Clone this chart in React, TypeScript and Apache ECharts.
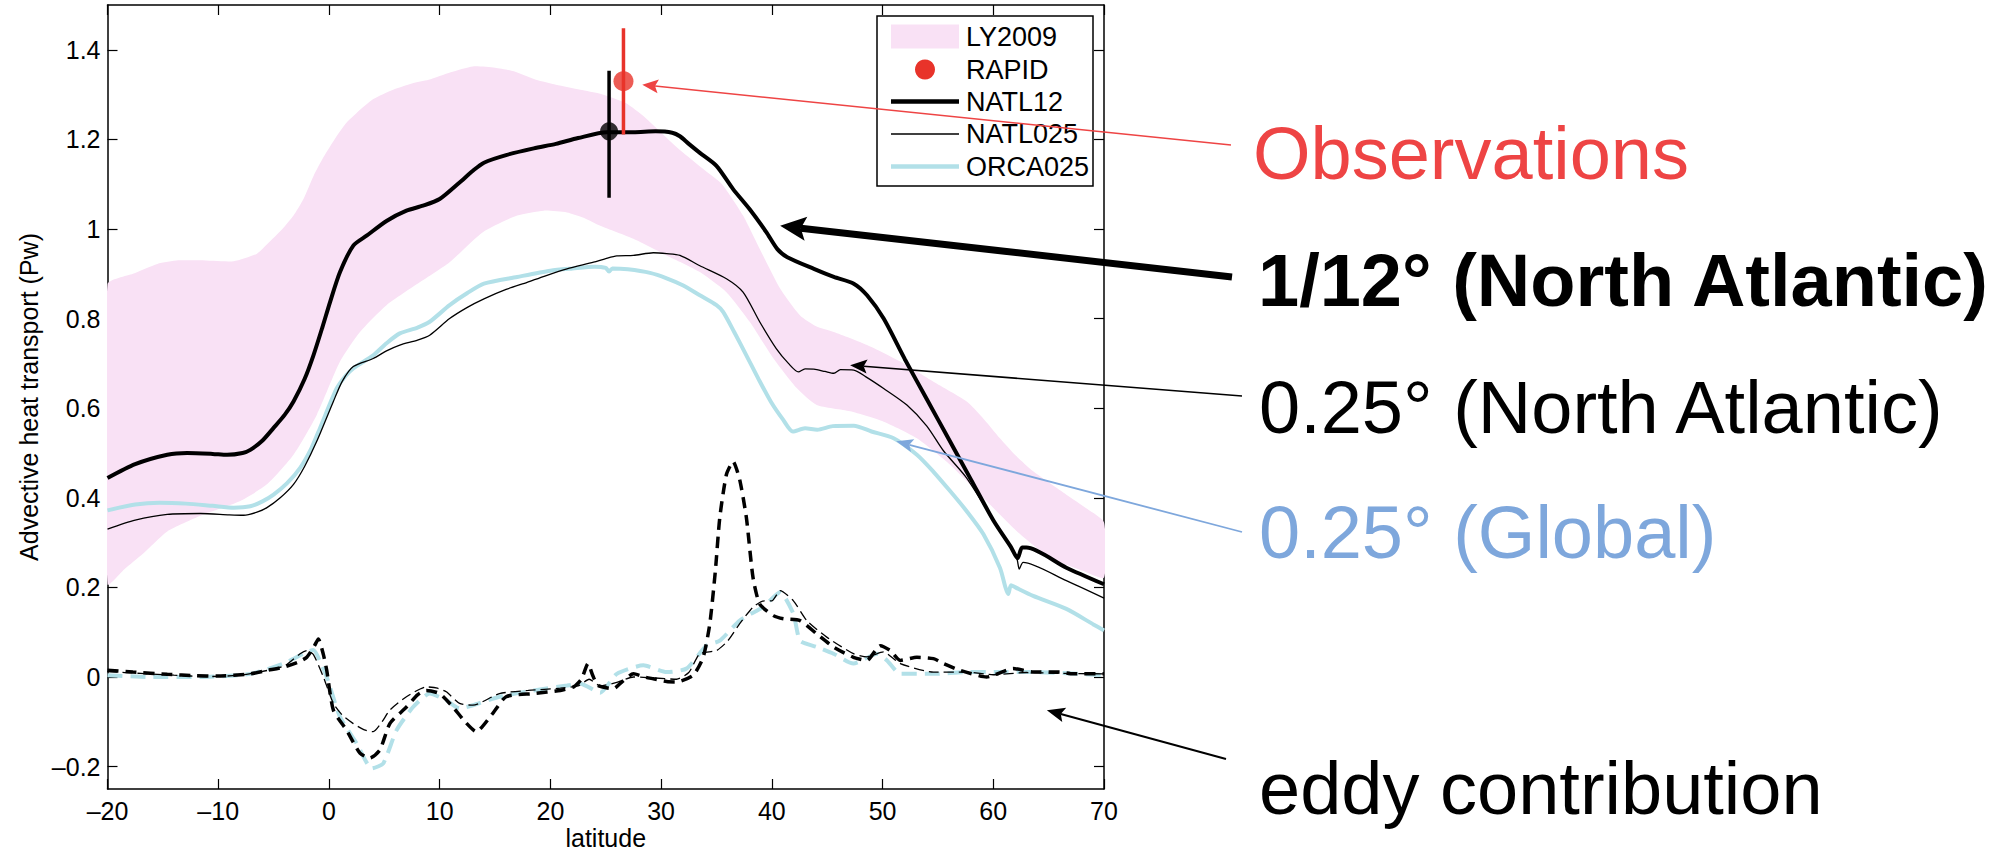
import React, { useEffect, useRef } from 'react';
import * as echarts from 'echarts';

const FONT = '"Liberation Sans", Arial, Helvetica, sans-serif';

const xTicks = [-20, -10, 0, 10, 20, 30, 40, 50, 60, 70];
const yTicks = [-0.2, 0, 0.2, 0.4, 0.6, 0.8, 1, 1.2, 1.4];

const legendLabels = ['LY2009', 'RAPID', 'NATL12', 'NATL025', 'ORCA025'];

// LY2009 envelope (upper and lower bounds)
const ly2009Upper = [
  [-20, 0.876], [-17.7, 0.9], [-15.5, 0.922], [-13.6, 0.93], [-11.6, 0.93], [-8.6, 0.928], [-6.5, 0.945],
  [-5.5, 0.968], [-4.2, 1.0], [-3.2, 1.03], [-2.3, 1.067], [-1.4, 1.118], [-0.5, 1.16], [0.5, 1.2],
  [1.5, 1.235], [2.5, 1.259], [4, 1.29], [5.8, 1.311], [7.5, 1.325], [9, 1.333], [11, 1.35], [13, 1.363],
  [15, 1.36], [16.7, 1.352], [18.7, 1.333], [20.5, 1.322], [22.7, 1.311], [24.5, 1.302], [26.8, 1.281],
  [28.5, 1.25], [30, 1.215], [32, 1.17], [34, 1.13], [35.5, 1.1], [37.4, 1.03], [38.9, 0.956],
  [40.75, 0.867], [42.55, 0.807], [44, 0.783], [45.6, 0.77], [48.6, 0.741], [51.6, 0.704], [54.6, 0.659],
  [57.6, 0.615], [59, 0.58], [60.6, 0.533], [62, 0.495], [63.6, 0.459], [66.6, 0.407], [68.5, 0.375], [70, 0.345],
];
const ly2009Lower = [
  [-20, 0.207], [-18.5, 0.24], [-16.8, 0.275], [-14.6, 0.325], [-11.6, 0.36], [-8, 0.393], [-5.6, 0.43],
  [-3.2, 0.496], [-1.1, 0.585], [1, 0.704], [2.8, 0.77], [5.2, 0.83], [8.2, 0.881], [10.9, 0.926],
  [13.9, 0.993], [17, 1.03], [19.4, 1.041], [21.5, 1.037], [23, 1.025], [24.5, 1.007], [27.5, 0.978],
  [30.5, 0.941], [33.5, 0.904], [35.9, 0.859], [38, 0.793], [40.15, 0.711], [42.25, 0.645], [44.06, 0.607],
  [47.07, 0.593], [50.1, 0.57], [53.1, 0.533], [56.1, 0.474], [59.1, 0.4], [62.1, 0.326], [65.1, 0.267],
  [68.1, 0.237], [70, 0.222],
];

// Total advective heat transport (PW)
const natl12 = [
  [-20, 0.444], [-17.5, 0.475], [-14.6, 0.496], [-12.8, 0.5], [-10.5, 0.498], [-9.2, 0.496], [-7.8, 0.5],
  [-7.1, 0.507], [-6, 0.528], [-5, 0.556], [-4, 0.585], [-3.2, 0.615], [-2.2, 0.665], [-1.4, 0.718],
  [-0.6, 0.78], [0.1, 0.837], [1, 0.904], [2.2, 0.963], [3.4, 0.985], [5.2, 1.018], [7, 1.041],
  [8.5, 1.052], [10, 1.067], [11.8, 1.104], [13, 1.13], [14, 1.148], [16, 1.165], [18.5, 1.18],
  [20.5, 1.19], [22.5, 1.203], [25.1, 1.216], [27.5, 1.216], [29.5, 1.218], [31, 1.215], [31.7, 1.207],
  [32.5, 1.19], [33.5, 1.17], [35, 1.141], [36.5, 1.089], [38, 1.044], [39.5, 0.993], [40.5, 0.955],
  [41.4, 0.937], [43.8, 0.911], [45.6, 0.893], [47.4, 0.878], [48.6, 0.852], [50.1, 0.8], [52, 0.71],
  [54, 0.62], [56, 0.53], [58, 0.44], [60, 0.35], [61.6, 0.29], [62.2, 0.265], [62.6, 0.289], [63, 0.289],
  [66.6, 0.244], [70, 0.207],
];
const natl025 = [
  [-20, 0.33], [-17.5, 0.35], [-14.6, 0.363], [-11.6, 0.365], [-9, 0.362], [-7.7, 0.361], [-6.5, 0.368],
  [-5.6, 0.378], [-4.4, 0.4], [-3.2, 0.43], [-2.2, 0.47], [-1.1, 0.526], [0.4, 0.615], [1.2, 0.66],
  [2.2, 0.693], [4, 0.711], [5.2, 0.728], [6.4, 0.741], [8, 0.752], [9.1, 0.763], [10.9, 0.8],
  [12.5, 0.825], [14, 0.844], [16, 0.865], [17.9, 0.881], [19.5, 0.895], [21.5, 0.911], [23.9, 0.926],
  [25, 0.934], [26, 0.94], [27.5, 0.941], [29.3, 0.947], [30.5, 0.945], [31.7, 0.941], [33.5, 0.918],
  [35.9, 0.889], [37.4, 0.859], [38.9, 0.793], [40.4, 0.733], [41.5, 0.7], [42.4, 0.681], [43, 0.688],
  [43.8, 0.687], [44.8, 0.682], [45.6, 0.678], [46.2, 0.686], [47.4, 0.685], [48.5, 0.67], [50.1, 0.644],
  [52.2, 0.607], [54, 0.56], [55.5, 0.505], [57.6, 0.444], [60.6, 0.326], [62.1, 0.267], [62.35, 0.241],
  [62.7, 0.256], [66.6, 0.215], [70, 0.176],
];
const orca025 = [
  [-20, 0.372], [-17.5, 0.385], [-15.3, 0.389], [-12.9, 0.387], [-10.5, 0.382], [-8.6, 0.378], [-7.1, 0.381],
  [-6, 0.392], [-5, 0.407], [-3.8, 0.432], [-2.6, 0.467], [-1.6, 0.51], [-0.8, 0.556], [0.7, 0.644],
  [1.5, 0.672], [2.2, 0.689], [4, 0.718], [5.2, 0.745], [6.4, 0.767], [8, 0.78], [9.1, 0.793],
  [10.9, 0.83], [12.5, 0.857], [14, 0.878], [17, 0.893], [20, 0.907], [22, 0.912], [24, 0.916],
  [25, 0.913], [25.3, 0.905], [25.6, 0.912], [27, 0.91], [29, 0.902], [30.5, 0.89], [32, 0.874],
  [33.5, 0.852], [35, 0.83], [35.6, 0.815], [36.6, 0.77], [37.7, 0.718], [38.8, 0.665], [39.9, 0.615],
  [41, 0.575], [41.9, 0.548], [43, 0.555], [44.1, 0.552], [45.5, 0.56], [47.4, 0.561], [49, 0.548],
  [51, 0.533], [53.1, 0.496], [54.6, 0.458], [56.1, 0.415], [57.6, 0.37], [59.1, 0.319], [60.6, 0.244],
  [61.1, 0.2], [61.35, 0.185], [61.6, 0.205], [62, 0.2], [63.6, 0.181], [66.6, 0.152], [69, 0.118], [70, 0.104],
];

// Eddy contribution (PW)
const natl12Eddy = [
  [-20, 0.015], [-17.7, 0.011], [-14.6, 0.006], [-12, 0.003], [-10.1, 0.002], [-7.1, 0.007], [-5.5, 0.015],
  [-4.1, 0.022], [-2.8, 0.033], [-2, 0.044], [-1.3, 0.07], [-0.96, 0.085], [-0.5, 0.05], [-0.2, 0.015],
  [0.4, -0.074], [1.6, -0.119], [2.8, -0.17], [3.7, -0.181], [4.6, -0.163], [5.5, -0.104], [7, -0.067],
  [8, -0.04], [8.8, -0.03], [10, -0.037], [11.2, -0.067], [12.3, -0.1], [13.3, -0.122], [14.8, -0.081],
  [16, -0.044], [18.5, -0.037], [20.9, -0.03], [22.1, -0.022], [22.8, -0.005], [23.4, 0.03], [23.8, 0.005],
  [24.3, -0.019], [25.7, -0.026], [26.5, -0.01], [27.5, 0.007], [28.5, 0], [29.3, -0.004], [30.5, -0.01],
  [31.4, -0.011], [32.9, 0.004], [33.8, 0.044], [34.4, 0.119], [34.9, 0.237], [35.3, 0.356], [35.9, 0.452],
  [36.5, 0.481], [37.1, 0.44], [37.7, 0.356], [38.3, 0.222], [38.9, 0.163], [40.15, 0.137], [41.05, 0.13],
  [42.55, 0.126], [44.06, 0.096], [45.57, 0.067], [47.37, 0.044], [48.58, 0.037], [49.8, 0.07], [50.7, 0.059],
  [51.6, 0.037], [53.1, 0.044], [54.6, 0.041], [55.5, 0.03], [57, 0.015], [59.4, 0], [61.8, 0.019],
  [63.6, 0.011], [66, 0.011], [67.2, 0.007], [70, 0.007],
];
const natl025Eddy = [
  [-20, 0.012], [-17, 0.008], [-14, 0.004], [-11, 0.001], [-8, 0.004], [-5.5, 0.015], [-4, 0.025],
  [-2.6, 0.052], [-2, 0.059], [-1.4, 0.05], [-0.5, 0], [0.4, -0.059], [1.2, -0.085], [2.2, -0.104],
  [3.2, -0.118], [4, -0.122], [4.8, -0.1], [5.5, -0.074], [7, -0.044], [8.8, -0.022], [9.8, -0.025],
  [10.6, -0.033], [11.8, -0.059], [13, -0.063], [15.4, -0.037], [18, -0.03], [20.9, -0.025], [22.5, -0.02],
  [23.5, -0.005], [24.5, -0.02], [26, -0.012], [27.5, 0], [29.3, -0.002], [31.4, -0.005], [32.5, 0.01],
  [33.5, 0.052], [35, 0.059], [36, 0.08], [37.1, 0.119], [38.3, 0.156], [39.3, 0.17], [40, 0.17],
  [40.75, 0.193], [41.95, 0.17], [43.16, 0.126], [44.96, 0.089], [47.37, 0.052], [48.6, 0.045],
  [50.08, 0.056], [51.6, 0.03], [54.6, 0.011], [57.6, 0.011], [60, 0.005], [63, 0.01], [66, 0.008], [70, 0.007],
];
const orca025Eddy = [
  [-20, 0.004], [-16.2, 0], [-11.6, 0], [-7.1, 0.007], [-4.1, 0.03], [-2, 0.056], [-1.4, 0.06], [-0.8, 0.035],
  [-0.2, 0], [1, -0.089], [2.5, -0.148], [3.87, -0.204], [4.9, -0.193], [6.1, -0.119], [7.6, -0.067],
  [9.1, -0.037], [10.6, -0.052], [11.8, -0.07], [13, -0.063], [15.4, -0.044], [18.5, -0.03], [21.5, -0.019],
  [22.7, -0.015], [24.5, -0.035], [26, 0.007], [28.4, 0.026], [30.5, 0.011], [32.3, 0.019], [34.1, 0.07],
  [35.3, 0.081], [37.1, 0.126], [39.2, 0.156], [40.75, 0.189], [41.95, 0.141], [42.55, 0.081], [44.06, 0.067],
  [45.57, 0.052], [47.37, 0.03], [49.5, 0.052], [50.4, 0.037], [51.6, 0.007], [54.6, 0.007], [57.6, 0.011],
  [60.6, 0.011], [63.6, 0.011], [70, 0.004],
];

// Observations: [latitude, value, low, high]
const natl12Obs = [25.3, 1.218, 1.07, 1.353];
const rapidObs = [26.6, 1.33, 1.211, 1.448];

// Annotations: text and arrow-tip [lat, value]
const annotationTexts = ['Observations', '1/12° (North Atlantic)', '0.25° (North Atlantic)', '0.25° (Global)', 'eddy contribution'];
const annotationTips = [[28.3, 1.322], [40.75, 1.007], [47.07, 0.696], [51.23, 0.526], [64.84, -0.074]];

const PINK = '#f9e1f5';
const LIGHTBLUE = '#b2e0e8';
const RED = '#e8332a';

const fmt = (v: number) => {
  const s = String(+v.toFixed(1));
  return s.replace('-', '\u2013');
};

export default function App() {
  const ref = useRef<HTMLDivElement>(null);
  useEffect(() => {
    const chart = echarts.init(ref.current!, null, { renderer: 'svg' });
    const axisLine = { show: true, onZero: false, lineStyle: { color: '#000', width: 1.5 } };
    const tick = { show: true, inside: true, length: 10, lineStyle: { color: '#000', width: 1.2 } };
    const option: any = {
      animation: false,
      backgroundColor: '#fff',
      textStyle: { fontFamily: FONT },
      grid: { left: 107.5, right: 905, top: 5, bottom: 62.5 },
      xAxis: [
        {
          type: 'value', min: -20, max: 70, interval: 10, position: 'bottom',
          name: 'latitude', nameLocation: 'middle', nameGap: 36, nameMoveOverlap: false,
          nameTextStyle: { fontSize: 25, color: '#000', fontFamily: FONT },
          axisLine, axisTick: tick,
          axisLabel: { fontSize: 25, color: '#000', margin: 9, formatter: fmt, fontFamily: FONT },
          splitLine: { show: false },
        },
        {
          type: 'value', min: -20, max: 70, interval: 10, position: 'top',
          axisLine, axisTick: tick, axisLabel: { show: false }, splitLine: { show: false },
        },
      ],
      yAxis: [
        {
          type: 'value', min: -0.25, max: 1.5, position: 'left',
          name: 'Advective heat transport (Pw)', nameLocation: 'middle', nameGap: 66, nameRotate: 90,
          nameMoveOverlap: false,
          nameTextStyle: { fontSize: 25, color: '#000', fontFamily: FONT },
          axisLine, axisTick: { ...tick, customValues: yTicks },
          axisLabel: { fontSize: 25, color: '#000', margin: 7, formatter: fmt, customValues: yTicks, fontFamily: FONT },
          splitLine: { show: false },
        },
        {
          type: 'value', min: -0.25, max: 1.5, position: 'right',
          axisLine, axisTick: { ...tick, customValues: yTicks },
          axisLabel: { show: false, customValues: yTicks }, splitLine: { show: false },
        },
      ],
      series: [
        {
          type: 'custom', name: 'LY2009', silent: true, clip: true, z: 1,
          data: [[0, 0]],
          renderItem: (params: any, api: any) => {
            const pts = ly2009Upper.map((p) => api.coord(p)).concat(
              ly2009Lower.slice().reverse().map((p) => api.coord(p))
            );
            return { type: 'polygon', shape: { points: pts, smooth: 0.2 }, style: { fill: PINK }, silent: true };
          },
        },
        {
          type: 'line', name: 'ORCA025', data: orca025, showSymbol: false, symbol: 'none', smooth: 0.25, z: 3,
          silent: true, lineStyle: { color: LIGHTBLUE, width: 4 },
        },
        {
          type: 'line', name: 'NATL025', data: natl025, showSymbol: false, symbol: 'none', smooth: 0.25, z: 4,
          silent: true, lineStyle: { color: '#000', width: 1.3 },
        },
        {
          type: 'line', name: 'NATL12', data: natl12, showSymbol: false, symbol: 'none', smooth: 0.25, z: 5,
          silent: true, lineStyle: { color: '#000', width: 4 },
        },
        {
          type: 'line', name: 'ORCA025 eddy', data: orca025Eddy, showSymbol: false, symbol: 'none', smooth: 0.2, z: 3,
          silent: true, lineStyle: { color: LIGHTBLUE, width: 4, type: [15, 8] },
        },
        {
          type: 'line', name: 'NATL025 eddy', data: natl025Eddy, showSymbol: false, symbol: 'none', smooth: 0.2, z: 4,
          silent: true, lineStyle: { color: '#000', width: 1.3, type: [10, 5] },
        },
        {
          type: 'line', name: 'NATL12 eddy', data: natl12Eddy, showSymbol: false, symbol: 'none', smooth: 0.2, z: 5,
          silent: true, lineStyle: { color: '#000', width: 3.5, type: [11, 7] },
        },
        {
          type: 'line', name: 'NATL12 obs bar', data: [[natl12Obs[0], natl12Obs[2]], [natl12Obs[0], natl12Obs[3]]],
          showSymbol: false, symbol: 'none', z: 6, silent: true, lineStyle: { color: '#000', width: 3.5 },
        },
        {
          type: 'scatter', name: 'NATL12 obs', data: [[natl12Obs[0], natl12Obs[1]]], symbolSize: 18, z: 6,
          silent: true, itemStyle: { color: '#000' },
        },
        {
          type: 'line', name: 'RAPID bar', data: [[rapidObs[0], rapidObs[2]], [rapidObs[0], rapidObs[3]]],
          showSymbol: false, symbol: 'none', z: 6, silent: true, lineStyle: { color: RED, width: 3.5 },
        },
        {
          type: 'scatter', name: 'RAPID', data: [[rapidObs[0], rapidObs[1]]], symbolSize: 20, z: 6,
          silent: true, itemStyle: { color: RED },
        },
      ],
    };
    chart.setOption(option);

    const toPx = (d: number[]) => chart.convertToPixel({ xAxisIndex: 0, yAxisIndex: 0 }, d) as number[];

    // legend (drawn as graphic)
    const lgX = 877, lgY = 16, lgW = 216, lgH = 170;
    const rows = [36.5, 69.5, 101.5, 134, 166.5];
    const sx1 = 891, sx2 = 959, tx = 966;
    const legendEls: any[] = [
      { type: 'rect', shape: { x: lgX, y: lgY, width: lgW, height: lgH }, style: { fill: '#fff', stroke: '#000', lineWidth: 1.5 }, z: 50 },
      { type: 'rect', shape: { x: sx1, y: rows[0] - 12, width: sx2 - sx1, height: 24 }, style: { fill: PINK }, z: 51 },
      { type: 'circle', shape: { cx: (sx1 + sx2) / 2, cy: rows[1], r: 10 }, style: { fill: RED }, z: 51 },
      { type: 'line', shape: { x1: sx1, y1: rows[2], x2: sx2, y2: rows[2] }, style: { stroke: '#000', lineWidth: 4.5 }, z: 51 },
      { type: 'line', shape: { x1: sx1, y1: rows[3], x2: sx2, y2: rows[3] }, style: { stroke: '#000', lineWidth: 1.3 }, z: 51 },
      { type: 'line', shape: { x1: sx1, y1: rows[4], x2: sx2, y2: rows[4] }, style: { stroke: LIGHTBLUE, lineWidth: 4.5 }, z: 51 },
    ];
    legendLabels.forEach((t, i) => {
      legendEls.push({
        type: 'text', x: tx, y: rows[i], z: 52,
        style: { text: t, fill: '#000', fontSize: 27, fontFamily: FONT, align: 'left', verticalAlign: 'middle' },
      });
    });

    // annotation arrows and texts
    const tails = [[1231, 145], [1232, 277], [1242, 396], [1242, 532], [1226, 759]];
    const colors = ['#ee4444', '#000', '#000', '#7ea7dc', '#000'];
    const widths = [1.6, 7, 1.6, 1.8, 2];
    const heads = [[16, 14], [26, 24], [17, 14], [17, 13], [18, 15]];
    const textPos = [[1253, 153.5], [1258, 280], [1259, 407.5], [1259, 532.5], [1259, 788.5]];
    const annoEls: any[] = [];
    annotationTips.forEach((tip, i) => {
      const [px, py] = toPx(tip);
      const [qx, qy] = tails[i];
      const dx = px - qx, dy = py - qy;
      const len = Math.sqrt(dx * dx + dy * dy);
      const ux = dx / len, uy = dy / len;
      const nx = -uy, ny = ux;
      const [L, W] = heads[i];
      const bx = px - ux * L, by = py - uy * L;
      const notchX = bx + ux * L * 0.2, notchY = by + uy * L * 0.2;
      annoEls.push({
        type: 'line', z: 60,
        shape: { x1: qx, y1: qy, x2: notchX, y2: notchY },
        style: { stroke: colors[i], lineWidth: widths[i] },
      });
      annoEls.push({
        type: 'polygon', z: 61,
        shape: { points: [[px, py], [bx + nx * W / 2, by + ny * W / 2], [notchX, notchY], [bx - nx * W / 2, by - ny * W / 2]] },
        style: { fill: colors[i] },
      });
      annoEls.push({
        type: 'text', x: textPos[i][0], y: textPos[i][1], z: 62,
        style: {
          text: annotationTexts[i], fill: colors[i], fontSize: 74, fontFamily: FONT,
          fontWeight: i === 1 ? 'bold' : 'normal', align: 'left', verticalAlign: 'middle',
        },
      });
    });

    chart.setOption({ graphic: [...legendEls, ...annoEls] });
    return () => chart.dispose();
  }, []);
  return <div ref={ref} style={{ position: 'absolute', left: 0, top: 0, width: 2009, height: 855 }} />;
}
